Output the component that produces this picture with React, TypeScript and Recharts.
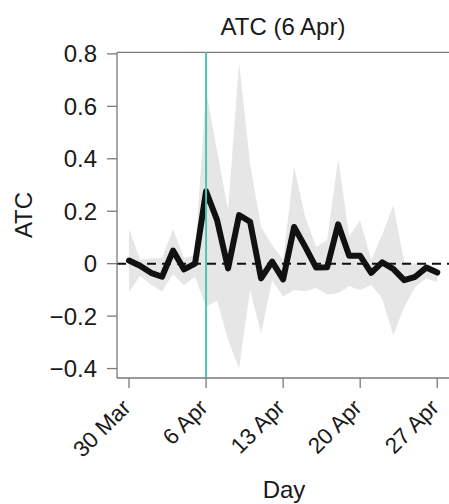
import React from 'react';
import { ComposedChart, Area, Line, XAxis, YAxis, ReferenceLine } from 'recharts';

const days = [0, 1, 2, 3, 4, 5, 6, 7, 8, 9, 10, 11, 12, 13, 14, 15, 16, 17, 18, 19, 20, 21, 22, 23, 24, 25, 26, 27, 28];
const atc = [0.012, -0.008, -0.035, -0.05, 0.05, -0.022, 0.0, 0.276, 0.166, -0.018, 0.185, 0.16, -0.056, 0.008, -0.06, 0.14, 0.065, -0.015, -0.014, 0.15, 0.03, 0.03, -0.035, 0.005, -0.02, -0.063, -0.05, -0.015, -0.034];
const upper = [0.132, 0.016, 0.02, 0.022, 0.132, 0.022, 0.033, 0.66, 0.43, 0.205, 0.767, 0.38, 0.14, 0.07, 0.015, 0.37, 0.18, 0.064, 0.09, 0.4, 0.105, 0.166, 0.014, 0.11, 0.224, 0.007, 0.0, 0.0, -0.02];
const lower = [-0.108, -0.047, -0.08, -0.105, -0.04, -0.082, -0.05, -0.165, -0.14, -0.29, -0.4, -0.1, -0.266, -0.063, -0.125, -0.1, -0.105, -0.093, -0.118, -0.112, -0.086, -0.1, -0.08, -0.133, -0.273, -0.165, -0.088, -0.056, -0.07];

const dayTicks = [0, 7, 14, 21, 28];
const dayTickLabels = ['30 Mar', '6 Apr', '13 Apr', '20 Apr', '27 Apr'];
const yTicks = [-0.4, -0.2, 0, 0.2, 0.4, 0.6, 0.8];
const yTickLabels = ['\u22120.4', '\u22120.2', '0', '0.2', '0.4', '0.6', '0.8'];
const eventDay = 7;
const title = 'ATC (6 Apr)';
const yLabel = 'ATC';
const xLabel = 'Day';

const data = days.map((d, i) => ({ day: d, atc: atc[i], lo: lower[i], hi: upper[i] }));

const FONT = 'Liberation Sans, Arial, Helvetica, sans-serif';
const TXT = '#1a1a1a';
const AX = '#7a7a7a';
const xDomain: [number, number] = [-1.09, 29.25];
const yDomain: [number, number] = [-0.436, 0.806];

const XTick = (props: any) => {
  const { x, y, payload } = props;
  const i = dayTicks.indexOf(payload.value);
  const tx = x + 3;
  const ty = y + 19;
  return (
    <text x={tx} y={ty} transform={`rotate(-45 ${tx} ${ty})`} textAnchor="end" fontSize={22.5} fill={TXT} fontFamily={FONT}>
      {dayTickLabels[i]}
    </text>
  );
};

export default function App() {
  return (
    <div style={{ position: 'fixed', left: 0, top: 0, width: 449, height: 504, overflow: 'hidden', background: '#fff' }}>
      <ComposedChart width={460} height={504} data={data} margin={{ top: 52.3, right: 9, bottom: 86, left: 0 }}>
        <XAxis
          dataKey="day"
          type="number"
          domain={xDomain}
          allowDataOverflow
          ticks={dayTicks}
          interval={0}
          height={40}
          tickSize={10}
          tickMargin={2}
          tick={<XTick />}
          stroke={AX}
          axisLine={{ stroke: AX, strokeWidth: 1.3 }}
          tickLine={{ stroke: AX, strokeWidth: 1.3 }}
        />
        <YAxis
          type="number"
          domain={yDomain}
          allowDataOverflow
          ticks={yTicks}
          interval={0}
          width={117}
          tickSize={10}
          tickMargin={10}
          tickFormatter={(v: number) => yTickLabels[yTicks.indexOf(v)] ?? String(v)}
          tick={{ fontSize: 24, fill: TXT, fontFamily: FONT }}
          axisLine={{ stroke: AX, strokeWidth: 1.3 }}
          tickLine={{ stroke: AX, strokeWidth: 1.3 }}
        />
        <ReferenceLine y={yDomain[1]} stroke={AX} strokeWidth={1.3} />
        <Area
          dataKey={(d: any) => [d.lo, d.hi]}
          type="linear"
          stroke="none"
          fill="#e6e6e6"
          fillOpacity={1}
          isAnimationActive={false}
          dot={false}
          activeDot={false}
        />
        <ReferenceLine y={0} stroke="#111" strokeWidth={2} strokeDasharray="9 6" />
        <Line
          dataKey="atc"
          type="linear"
          stroke="#111"
          strokeWidth={6}
          strokeLinejoin="round"
          strokeLinecap="round"
          dot={false}
          activeDot={false}
          isAnimationActive={false}
        />
        <ReferenceLine x={eventDay} stroke="#4fc4b4" strokeWidth={2} />
      </ComposedChart>
      <svg width={449} height={504} style={{ position: 'absolute', left: 0, top: 0, pointerEvents: 'none' }}>
        <text x={283} y={35} textAnchor="middle" fontSize={24} fill={TXT} fontFamily={FONT}>{title}</text>
        <text x={32} y={215} textAnchor="middle" fontSize={24} fill={TXT} fontFamily={FONT} transform="rotate(-90 32 215)">{yLabel}</text>
        <text x={284} y={498} textAnchor="middle" fontSize={24} fill={TXT} fontFamily={FONT}>{xLabel}</text>
      </svg>
    </div>
  );
}
